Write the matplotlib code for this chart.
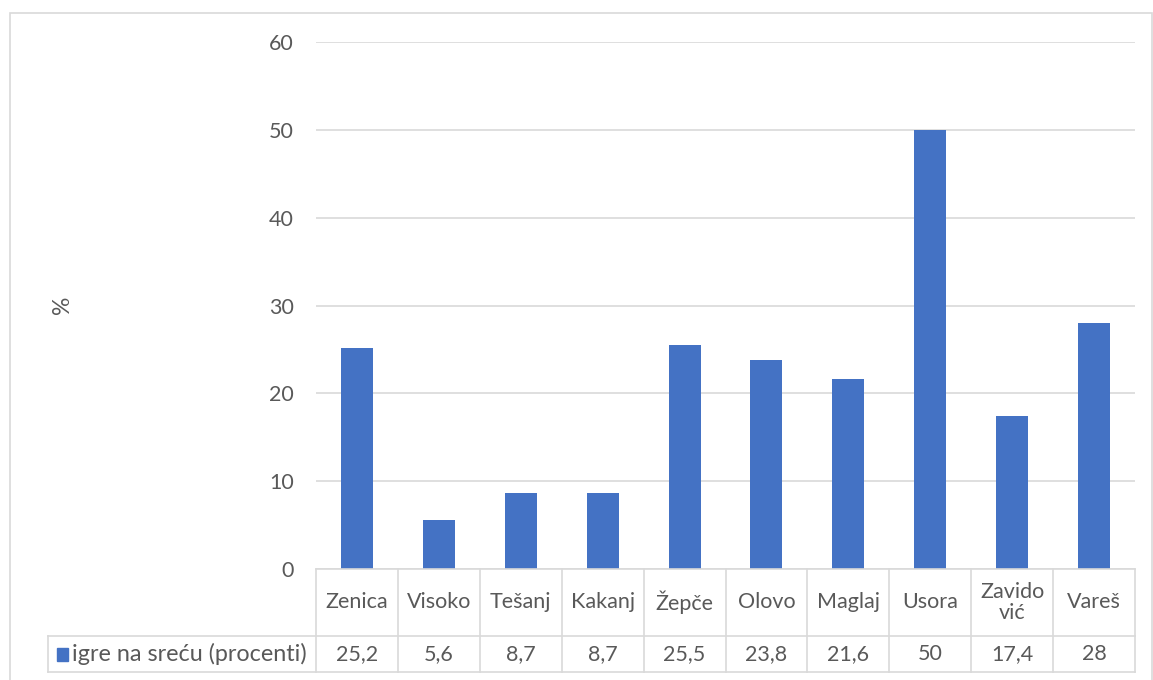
import matplotlib
matplotlib.use("Agg")
import matplotlib.pyplot as plt
from matplotlib.patches import Rectangle
import matplotlib.transforms as mtransforms

categories = ["Zenica", "Visoko", "Tešanj", "Kakanj", "Žepče", "Olovo",
              "Maglaj", "Usora", "Zavido\nvić", "Vareš"]
values = [25.2, 5.6, 8.7, 8.7, 25.5, 23.8, 21.6, 50, 17.4, 28]
value_labels = ["25,2", "5,6", "8,7", "8,7", "25,5", "23,8", "21,6", "50", "17,4", "28"]
series_name = "igre na sreću (procenti)"
yticks = [0, 10, 20, 30, 40, 50, 60]

W, H = 1153, 680
plt.rcParams['font.family'] = ['Lato', 'DejaVu Sans']
fig = plt.figure(figsize=(W / 100, H / 100), dpi=100)

TEXT = "#595959"
GRID = "#d9d9d9"
BLUE = "#4472C4"
FS = 15.5

# outer frame
fig.patches.append(Rectangle((10 / W, -0.05), (1152 - 10) / W, (H - 13) / H + 0.05,
                             transform=fig.transFigure, fill=False,
                             edgecolor=GRID, linewidth=1.2))

x0, x1 = 316, 1135
y0, y1 = 569, 42
ax = fig.add_axes([x0 / W, (H - y0) / H, (x1 - x0) / W, (y0 - y1) / H])
n = len(categories)
xs = [i + 0.5 for i in range(n)]
ax.bar(xs, values, width=0.39, color=BLUE, zorder=3)
ax.set_xlim(0, n)
ax.set_ylim(0, 60)
ax.set_yticks(yticks)
ax.set_yticklabels([str(t) for t in yticks], color=TEXT, fontsize=FS)
ax.tick_params(axis='y', length=0, pad=16)
ax.set_xticks([])
ax.grid(axis='y', color=GRID, linewidth=1.2, zorder=0)
for s in ax.spines.values():
    s.set_visible(False)
ax.axhline(0, color=GRID, linewidth=1.2, zorder=4, clip_on=False)

fig.text(62 / W, (H - 305) / H, "%", rotation=90, ha='center', va='center',
         color=TEXT, fontsize=16.5)

# data table
trans = mtransforms.blended_transform_factory(ax.transData, ax.transAxes)
ph = y0 - y1
r1 = -(636 - y0) / ph
r2 = -(672 - y0) / ph
left = (48 - x0) / ((x1 - x0) / n)
lk = dict(color=GRID, linewidth=1.2, transform=trans, clip_on=False)
for i in range(n + 1):
    ax.plot([i, i], [0, r2], **lk)
ax.plot([left, n], [r1, r1], **lk)
ax.plot([left, n], [r2, r2], **lk)
ax.plot([left, left], [r1, r2], **lk)
for i, (c, v) in enumerate(zip(categories, value_labels)):
    ax.text(i + 0.5, r1 / 2, c, transform=trans, ha='center', va='center',
            color=TEXT, fontsize=FS, linespacing=1.05)
    ax.text(i + 0.5, (r1 + r2) / 2, v, transform=trans, ha='center', va='center',
            color=TEXT, fontsize=FS)
# legend key
ax.add_patch(Rectangle((57 / W, (H - 661) / H), 11 / W, 13 / H,
                       transform=fig.transFigure, color=BLUE, clip_on=False))
fig.text(72 / W, (H - 654) / H, series_name, ha='left', va='center',
         color=TEXT, fontsize=16.8)

fig.savefig("out.png", dpi=100)
